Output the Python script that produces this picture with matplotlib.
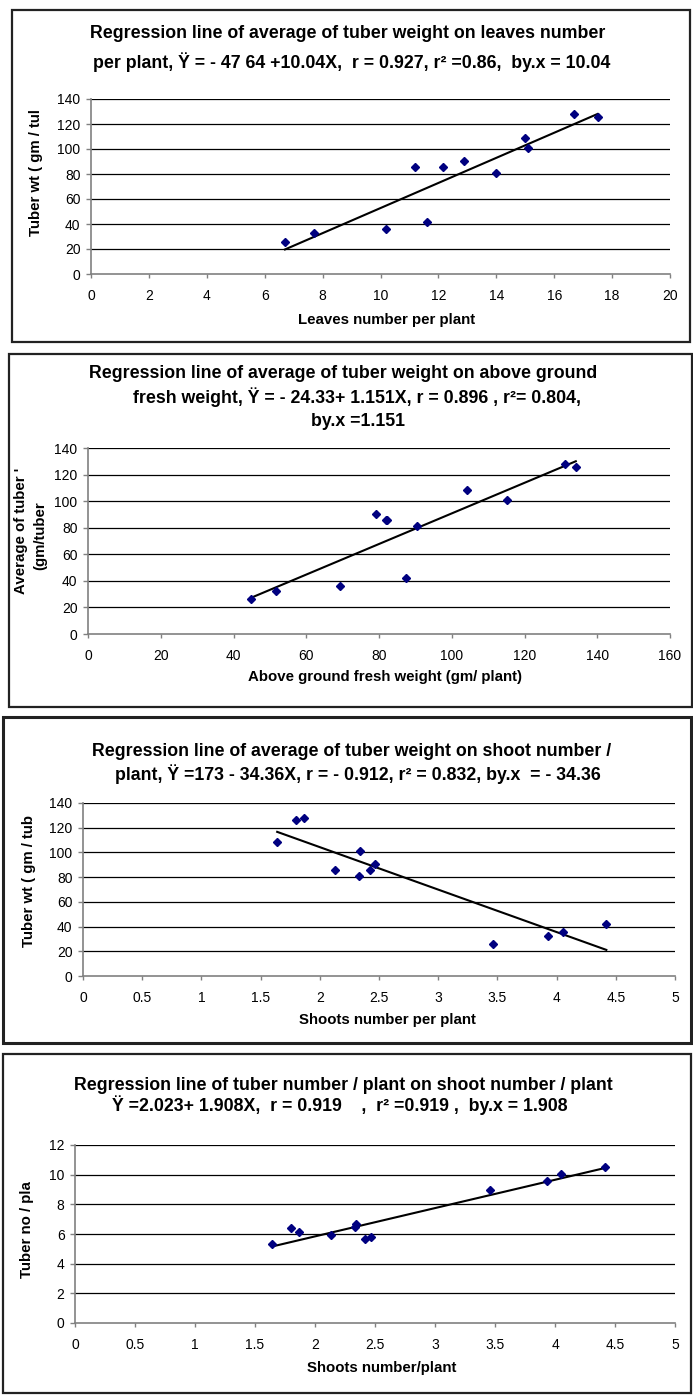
import matplotlib
matplotlib.use("Agg")
import matplotlib.pyplot as plt
from matplotlib.patches import Rectangle
import numpy as np

# ---------------- data ----------------
tuber_wt = [26, 32.5, 36, 86, 42, 85.5, 90.5, 81, 108.5, 101, 128, 126]
leaves_no = [6.7, 7.7, 10.2, 11.2, 11.6, 12.15, 12.9, 14.0, 15.0, 15.1, 16.7, 17.5]
fresh_wt = [44.8, 51.7, 69.2, 82.3, 87.5, 82.0, 79.1, 90.5, 104.3, 115.3, 131.1, 134.1]
shoots_no = [3.46, 3.93, 4.05, 2.42, 4.42, 2.13, 2.47, 2.33, 1.64, 2.34, 1.87, 1.80]
tuber_no = [9.0, 9.6, 10.05, 5.65, 10.55, 5.95, 5.8, 6.45, 5.3, 6.65, 6.15, 6.4]

intercepts = [-47.64, -24.33, 173.0, 2.023]
slopes = [10.04, 1.151, -34.36, 1.908]

titles = [
    ["Regression line of average of tuber weight on leaves number",
     "per plant, Ÿ = - 47 64 +10.04X,  r = 0.927, r² =0.86,  by.x = 10.04"],
    ["Regression line of average of tuber weight on above ground",
     "fresh weight, Ÿ = - 24.33+ 1.151X, r = 0.896 , r²= 0.804,",
     "by.x =1.151"],
    ["Regression line of average of tuber weight on shoot number /",
     "plant, Ÿ =173 - 34.36X, r = - 0.912, r² = 0.832, by.x  = - 34.36"],
    ["Regression line of tuber number / plant on shoot number / plant",
     "Ÿ =2.023+ 1.908X,  r = 0.919    ,  r² =0.919 ,  by.x = 1.908"],
]
xlabels = ["Leaves number per plant", "Above ground fresh weight (gm/ plant)",
           "Shoots number per plant", "Shoots number/plant"]
ylabels = [["Tuber wt ( gm / tul"], ["Average of tuber '", "(gm/tuber"],
           ["Tuber wt ( gm / tub"], ["Tuber no / pla"]]
xticks = [[0, 2, 4, 6, 8, 10, 12, 14, 16, 18, 20],
          [0, 20, 40, 60, 80, 100, 120, 140, 160],
          [0, 0.5, 1, 1.5, 2, 2.5, 3, 3.5, 4, 4.5, 5],
          [0, 0.5, 1, 1.5, 2, 2.5, 3, 3.5, 4, 4.5, 5]]
yticks = [[0, 20, 40, 60, 80, 100, 120, 140],
          [0, 20, 40, 60, 80, 100, 120, 140],
          [0, 20, 40, 60, 80, 100, 120, 140],
          [0, 2, 4, 6, 8, 10, 12]]

xs = [leaves_no, fresh_wt, shoots_no, shoots_no]
ys = [tuber_wt, tuber_wt, tuber_wt, tuber_no]

# ---------------- layout (pixels) ----------------
W, H = 693, 1396
fig = plt.figure(figsize=(W / 100, H / 100), dpi=100)
fig.patch.set_facecolor("white")

def fx(px):
    return px / W

def fy(py):
    return 1 - py / H

frames = [(12, 10, 690, 342), (9, 354, 692, 707), (3, 717, 691, 1043), (3, 1054, 691, 1393)]
frame_lw = [1.6, 1.6, 2.2, 1.6]
axes_px = [(91, 99, 670, 274), (88, 448, 670, 634), (83, 803, 675, 976), (75, 1145, 675, 1323)]
title_pos = [[(348, 33), (352, 62)],
             [(343, 374), (357, 397), (358, 422)],
             [(352, 752), (358, 774)],
             [(343, 1085), (340, 1105)]]
xlabel_pos = [(387, 320), (385, 677), (387, 1020), (382, 1368)]
ylabel_pos = [[(36, 173)], [(21, 531), (40, 536)], [(29, 881)], [(27.5, 1230)]]

FONT = ["Liberation Sans", "DejaVu Sans"]

for i in range(4):
    x0, y0, x1, y1 = frames[i]
    fig.patches.append(Rectangle((fx(x0), fy(y1)), fx(x1) - fx(x0), fy(y0) - fy(y1),
                                 transform=fig.transFigure, fill=False,
                                 edgecolor="#222222", linewidth=frame_lw[i], zorder=0))
    ax0, ay0, ax1, ay1 = axes_px[i]
    ax = fig.add_axes([fx(ax0), fy(ay1), fx(ax1) - fx(ax0), fy(ay0) - fy(ay1)])
    ax.set_xlim(xticks[i][0], xticks[i][-1])
    ax.set_ylim(yticks[i][0], yticks[i][-1])
    ax.set_xticks(xticks[i])
    ax.set_yticks(yticks[i])
    ax.set_xticklabels([("%g" % v) for v in xticks[i]], fontfamily=FONT, fontsize=10)
    ax.set_yticklabels([("%g" % v) for v in yticks[i]], fontfamily=FONT, fontsize=10)
    ax.tick_params(axis="x", direction="out", length=3, width=1, color="#808080", pad=8)
    ax.tick_params(axis="y", direction="out", length=3.5, width=1, color="#808080", pad=4)
    for s in ["top", "right"]:
        ax.spines[s].set_visible(False)
    for s in ["left", "bottom"]:
        ax.spines[s].set_color("#808080")
        ax.spines[s].set_linewidth(1.2)
    for v in yticks[i][1:]:
        ax.axhline(v, color="black", linewidth=0.9, zorder=1)
    ax.set_facecolor("white")

    xv = np.array(xs[i])
    yv = np.array(ys[i])
    lx = np.array([xv.min(), xv.max()])
    ax.plot(lx, intercepts[i] + slopes[i] * lx, color="black", linewidth=1.5, zorder=3)
    ax.plot(xv, yv, linestyle="none", marker="D", markersize=4.0, color="#000080",
            markeredgecolor="#000080", zorder=4, clip_on=False)

    for (tx, ty), line in zip(title_pos[i], titles[i]):
        fig.text(fx(tx), fy(ty), line, ha="center", va="center", fontsize=12.8,
                 fontweight="bold", family=FONT)
    lx_, ly_ = xlabel_pos[i]
    fig.text(fx(lx_), fy(ly_), xlabels[i], ha="center", va="center", fontsize=10.8,
             fontweight="bold", family=FONT)
    for (tx, ty), line in zip(ylabel_pos[i], ylabels[i]):
        fig.text(fx(tx), fy(ty), line, ha="center", va="center", rotation=90,
                 fontsize=10.8, fontweight="bold", family=FONT)

fig.savefig("out.png", dpi=100, facecolor="white")
